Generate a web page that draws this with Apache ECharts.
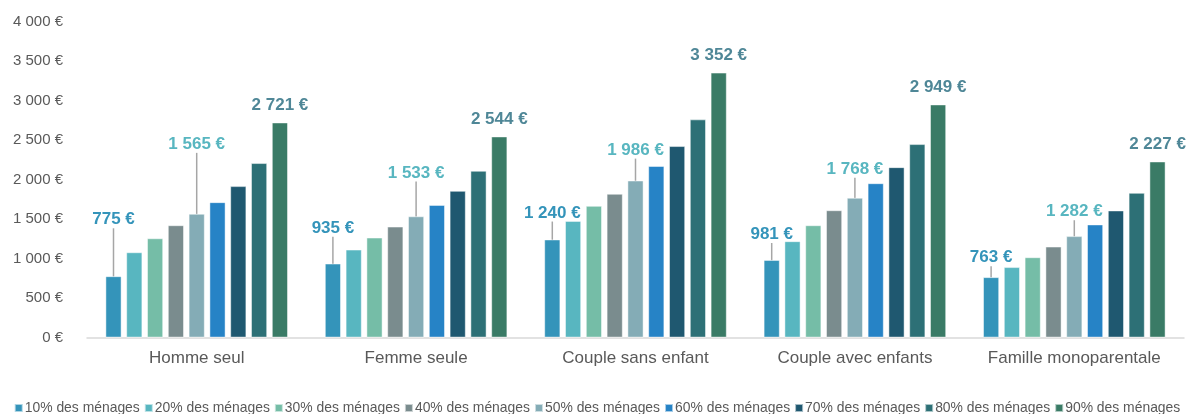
<!DOCTYPE html>
<html>
<head>
<meta charset="utf-8">
<script src="https://cdn.jsdelivr.net/npm/echarts@6/dist/echarts.min.js"></script>
<style>
html,body{margin:0;padding:0;background:#fff;}
#chart{width:1194px;height:414px;}
</style>
</head>
<body>
<div id="chart"></div>
<script>
const categories = ['Homme seul', 'Femme seule', 'Couple sans enfant', 'Couple avec enfants', 'Famille monoparentale'];
const seriesNames = ['10% des ménages', '20% des ménages', '30% des ménages', '40% des ménages', '50% des ménages', '60% des ménages', '70% des ménages', '80% des ménages', '90% des ménages'];
const p10 = [775, 935, 1240, 981, 763];
const p20 = [1078, 1112, 1475, 1218, 890];
const p30 = [1255, 1264, 1665, 1420, 1015];
const p40 = [1420, 1403, 1818, 1610, 1150];
const p50 = [1565, 1533, 1986, 1768, 1282];
const p60 = [1712, 1677, 2170, 1952, 1430];
const p70 = [1915, 1855, 2422, 2155, 1607];
const p80 = [2207, 2109, 2760, 2447, 1830];
const p90 = [2721, 2544, 3352, 2949, 2227];
const yTicks = [0, 500, 1000, 1500, 2000, 2500, 3000, 3500, 4000];

const seriesValues = [p10, p20, p30, p40, p50, p60, p70, p80, p90];
const colors = ['#3494BA', '#58B6C0', '#75BDA7', '#7A8C8E', '#84ACB6', '#2683C6', '#1F5870', '#2D7076', '#3A7B66'];
// extra lift (px) of the callout labels above the default label position
const lift10 = [39, 18, 9, 8, 2];
const lift50 = [52, 26, 13, 11, 7];
const labelColors = {0: '#3494BA', 4: '#58B6C0', 8: '#4F8797'};

function fmt(v) {
  return String(Math.round(v)).replace(/\B(?=(\d{3})+(?!\d))/g, ' ') + ' €';
}

const FONT = '"Liberation Sans", Arial, sans-serif';

const series = seriesValues.map((vals, i) => {
  const hasLabel = (i === 0 || i === 4 || i === 8);
  const s = {
    name: seriesNames[i],
    type: 'bar',
    data: vals,
    barWidth: 16,
    barGap: '30%',
    itemStyle: { color: colors[i], borderColor: 'rgba(255,255,255,0.6)', borderWidth: 0.8 },
    label: {
      show: hasLabel,
      position: 'top',
      distance: 9,
      formatter: p => fmt(p.value),
      color: labelColors[i] || '#333',
      fontFamily: FONT,
      fontWeight: 'bold',
      fontSize: 17
    },
    labelLine: {
      show: (i === 0 || i === 4),
      lineStyle: { color: '#A6A6A6', width: 1.5 }
    },
    emphasis: { disabled: true }
  };
  if (i === 0 || i === 4) {
    const lifts = i === 0 ? lift10 : lift50;
    s.labelLayout = function (params) {
      return { dy: -lifts[params.dataIndex] };
    };
  }
  return s;
});

const chart = echarts.init(document.getElementById('chart'), null, { renderer: 'canvas' });
chart.setOption({
  animation: false,
  color: colors,
  grid: { left: 87, right: 10, top: 21.5, bottom: 76.5, containLabel: false },
  legend: {
    data: seriesNames,
    top: 396,
    left: 'center',
    icon: 'rect',
    itemWidth: 8,
    itemHeight: 8,
    itemGap: 4,
    textStyle: { color: '#595959', fontSize: 13.9, fontFamily: FONT, padding: [0, 0, 0, -3] }
  },
  xAxis: {
    type: 'category',
    data: categories,
    axisLine: { lineStyle: { color: '#D9D9D9', width: 1.5 } },
    axisTick: { show: false },
    axisLabel: { color: '#595959', fontSize: 17, fontFamily: FONT, margin: 12, interval: 0 }
  },
  yAxis: {
    type: 'value',
    min: yTicks[0],
    max: yTicks[yTicks.length - 1],
    interval: yTicks[1] - yTicks[0],
    splitLine: { show: false },
    axisLine: { show: false },
    axisTick: { show: false },
    axisLabel: { color: '#595959', fontSize: 15, fontFamily: FONT, margin: 24, formatter: v => fmt(v) }
  },
  series: series
});
</script>
</body>
</html>
